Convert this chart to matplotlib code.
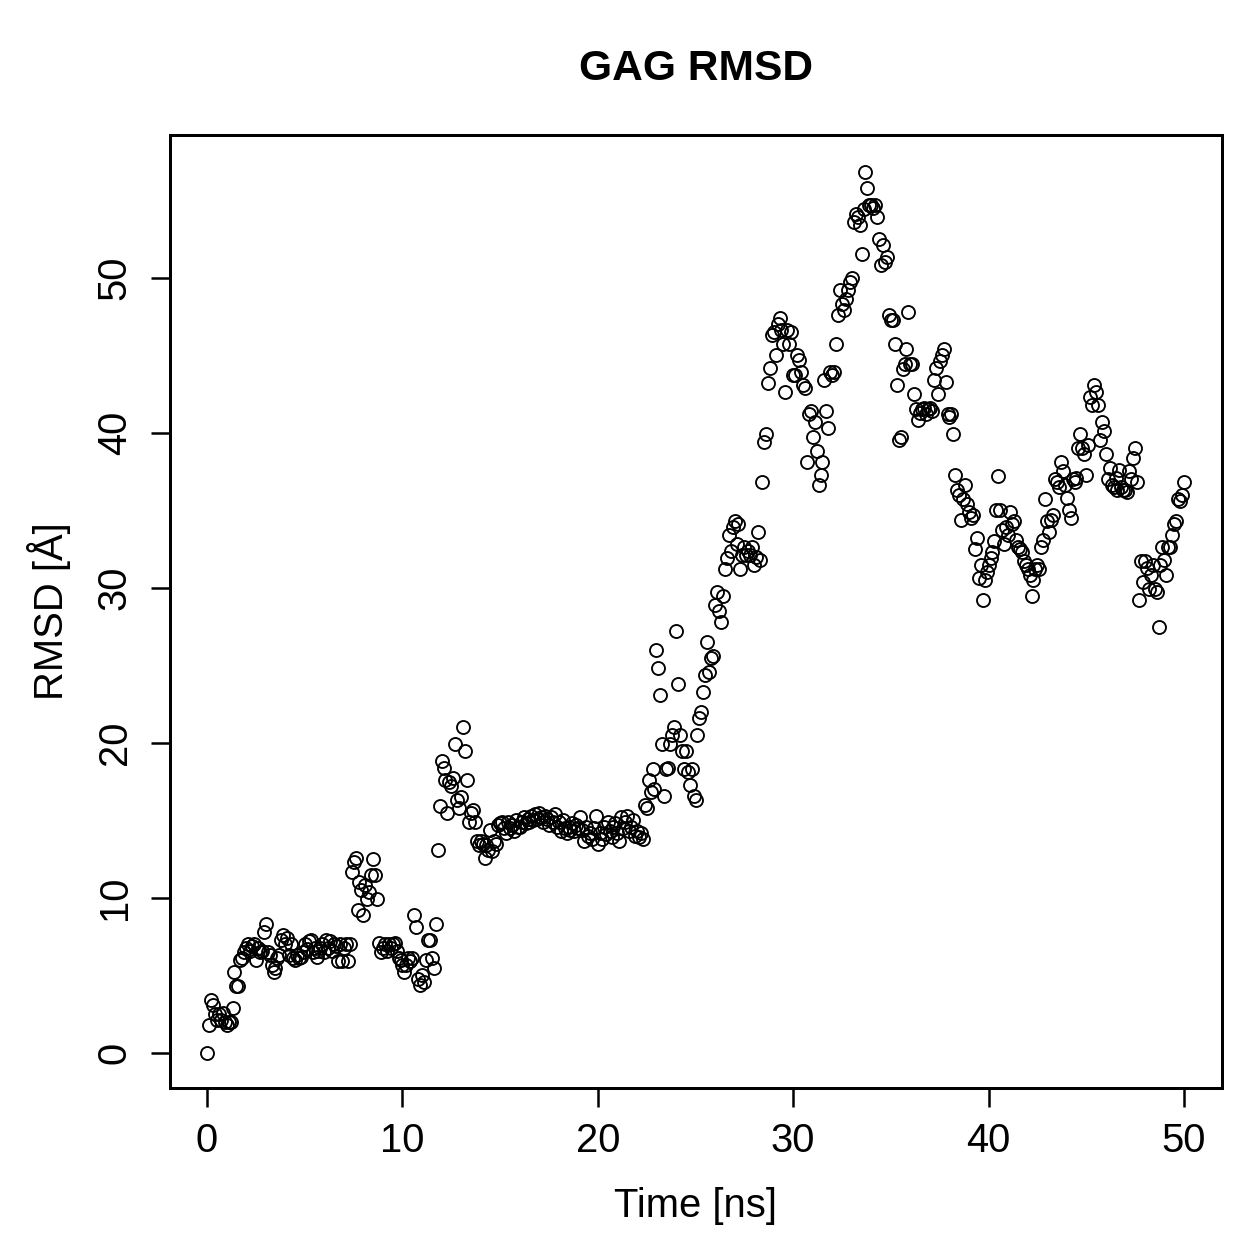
import numpy as np
import matplotlib
matplotlib.use("Agg")
import matplotlib.pyplot as plt

plt.rcParams['font.family'] = ['Liberation Sans', 'DejaVu Sans']

# RMSD values, one every 0.1 ns
rmsd = [
    0.0, 1.8, 3.4, 3.1, 2.5, 2.1, 2.5, 2.1, 2.6, 2.0,
    1.8, 2.0, 2.0, 2.9, 5.2, 4.3, 4.3, 6.0, 6.1, 6.5,
    6.8, 7.0, 6.6, 6.9, 7.0, 6.0, 6.8, 6.5, 6.6, 7.8,
    8.3, 6.5, 6.3, 5.7, 5.2, 5.5, 6.1, 6.3, 7.3, 7.6,
    7.0, 7.4, 6.3, 7.0, 6.1, 6.0, 6.3, 6.1, 6.2, 6.5,
    7.0, 6.7, 7.2, 7.3, 6.5, 6.8, 6.2, 6.6, 6.8, 7.0,
    6.5, 7.3, 6.8, 7.2, 6.6, 7.0, 6.9, 5.9, 7.0, 5.9,
    6.8, 7.0, 5.9, 7.0, 11.7, 12.3, 12.6, 9.2, 11.0, 10.5,
    8.9, 10.8, 9.9, 10.4, 11.5, 12.5, 11.5, 9.9, 7.1, 6.5,
    6.8, 7.0, 6.6, 7.0, 6.8, 7.0, 7.1, 6.6, 6.1, 6.0,
    5.7, 5.2, 5.7, 6.1, 5.9, 6.1, 8.9, 8.1, 4.8, 4.4,
    5.0, 4.6, 6.0, 7.3, 7.3, 6.1, 5.5, 8.3, 13.1, 15.9,
    18.8, 18.4, 17.6, 15.5, 17.5, 17.2, 17.7, 19.9, 16.3, 15.8,
    16.5, 21.0, 19.5, 17.6, 14.9, 15.5, 15.7, 14.9, 13.7, 13.4,
    13.7, 13.5, 12.6, 13.4, 13.1, 14.4, 13.0, 13.7, 13.5, 14.7,
    14.8, 14.9, 14.5, 14.2, 14.9, 14.5, 14.7, 14.3, 15.0, 14.6,
    14.6, 14.9, 15.2, 14.8, 15.1, 14.9, 15.3, 15.0, 15.4, 15.1,
    15.5, 15.2, 14.9, 15.3, 15.1, 14.7, 15.2, 14.9, 15.4, 14.6,
    14.9, 14.3, 15.0, 14.5, 14.2, 14.6, 14.4, 14.8, 14.3, 14.7,
    14.5, 15.2, 14.4, 13.7, 14.6, 14.0, 14.2, 13.8, 14.5, 15.3,
    13.5, 14.2, 13.8, 14.6, 14.1, 14.9, 14.3, 13.9, 14.6, 14.8,
    14.2, 13.7, 15.2, 14.5, 14.9, 15.3, 14.3, 14.6, 15.0, 14.0,
    14.3, 13.9, 14.2, 13.8, 16.0, 15.8, 17.6, 16.8, 18.3, 17.0,
    26.0, 24.8, 23.1, 19.9, 16.6, 18.3, 18.4, 19.9, 20.5, 21.0,
    27.2, 23.8, 20.5, 19.5, 18.3, 19.5, 18.1, 17.3, 18.3, 16.6,
    16.3, 20.5, 21.6, 22.0, 23.3, 24.4, 26.5, 24.6, 25.5, 25.6,
    28.9, 29.7, 28.5, 27.8, 29.5, 31.2, 31.9, 33.4, 32.4, 33.9,
    34.3, 32.8, 34.1, 31.2, 32.1, 32.6, 32.1, 32.4, 32.1, 32.6,
    31.5, 32.0, 33.6, 31.8, 36.8, 39.4, 39.9, 43.2, 44.2, 46.3,
    46.5, 45.0, 47.0, 47.4, 46.6, 45.7, 42.6, 46.6, 45.7, 46.5,
    43.7, 43.7, 45.0, 44.7, 43.9, 43.1, 42.9, 38.1, 41.2, 41.4,
    39.7, 40.7, 38.8, 36.6, 37.3, 38.1, 43.4, 41.4, 40.3, 43.9,
    43.7, 43.9, 45.7, 47.6, 49.2, 48.3, 47.9, 48.6, 49.2, 49.7,
    50.0, 53.6, 54.1, 53.9, 53.4, 51.5, 54.4, 56.8, 55.8, 54.7,
    54.7, 54.5, 54.7, 53.9, 52.5, 50.8, 52.1, 51.0, 51.3, 47.6,
    47.3, 47.3, 45.7, 43.1, 39.5, 39.7, 44.1, 44.4, 45.4, 47.8,
    44.4, 44.4, 42.5, 41.5, 40.8, 41.3, 41.5, 41.6, 41.2, 41.5,
    41.6, 41.4, 43.4, 44.2, 42.5, 44.6, 45.0, 45.4, 43.3, 41.2,
    41.0, 41.2, 39.9, 37.3, 36.3, 36.0, 34.4, 35.7, 36.6, 35.4,
    34.9, 34.5, 34.7, 32.5, 33.2, 30.6, 31.5, 29.2, 30.5, 31.0,
    31.5, 31.9, 32.3, 33.0, 35.0, 37.2, 35.0, 33.7, 32.8, 33.9,
    33.4, 34.9, 34.1, 34.3, 33.1, 32.6, 32.5, 32.3, 31.7, 31.5,
    31.2, 30.8, 29.5, 30.5, 31.2, 31.5, 31.2, 32.6, 33.1, 35.7,
    34.3, 33.6, 34.4, 34.7, 37.0, 36.8, 36.5, 38.1, 37.5, 36.6,
    35.8, 35.0, 34.5, 37.0, 36.8, 37.1, 39.0, 39.9, 39.0, 38.6,
    37.3, 39.2, 42.3, 41.8, 43.1, 42.6, 41.8, 39.5, 40.7, 40.1,
    38.6, 37.0, 37.7, 36.6, 36.5, 37.1, 36.3, 37.6, 36.5, 36.3,
    36.3, 36.2, 37.5, 37.0, 38.4, 39.0, 36.8, 29.2, 31.7, 30.4,
    31.7, 31.3, 29.9, 30.8, 31.5, 29.9, 29.7, 27.5, 31.5, 32.6,
    31.8, 30.8, 32.6, 32.6, 33.4, 34.1, 34.3, 35.7, 35.6, 36.0,
    36.8,
]
step_ns = 0.1
time_ns = np.arange(len(rmsd)) * step_ns

xticks = [0, 10, 20, 30, 40, 50]
yticks = [0, 10, 20, 30, 40, 50]

W = 1259
fig = plt.figure(figsize=(W / 180, W / 180), dpi=180)
ax = fig.add_axes([170 / W, 1 - 1088 / W, (1222 - 170) / W, (1088 - 135) / W])

ax.plot(time_ns, rmsd, 'o', mfc='none', mec='black', ms=5.2, mew=0.75)

ax.set_xlim(-1.9, 51.95)
ax.set_ylim(-2.26, 59.2)
ax.set_xticks(xticks)
ax.set_yticks(yticks)
ax.set_yticklabels([str(v) for v in yticks], rotation=90, va='center')

for s in ax.spines.values():
    s.set_linewidth(1.2)
ax.tick_params(direction='out', length=7.5, width=1.0, labelsize=16, pad=6)
ax.tick_params(axis='y', pad=7)

ax.set_xlabel("Time [ns]", fontsize=16, labelpad=11)
ax.set_ylabel("RMSD [Å]", fontsize=16, labelpad=10)
ax.set_title("GAG RMSD", fontsize=17, fontweight='bold', pad=22)

fig.savefig("out.png", dpi=180)
